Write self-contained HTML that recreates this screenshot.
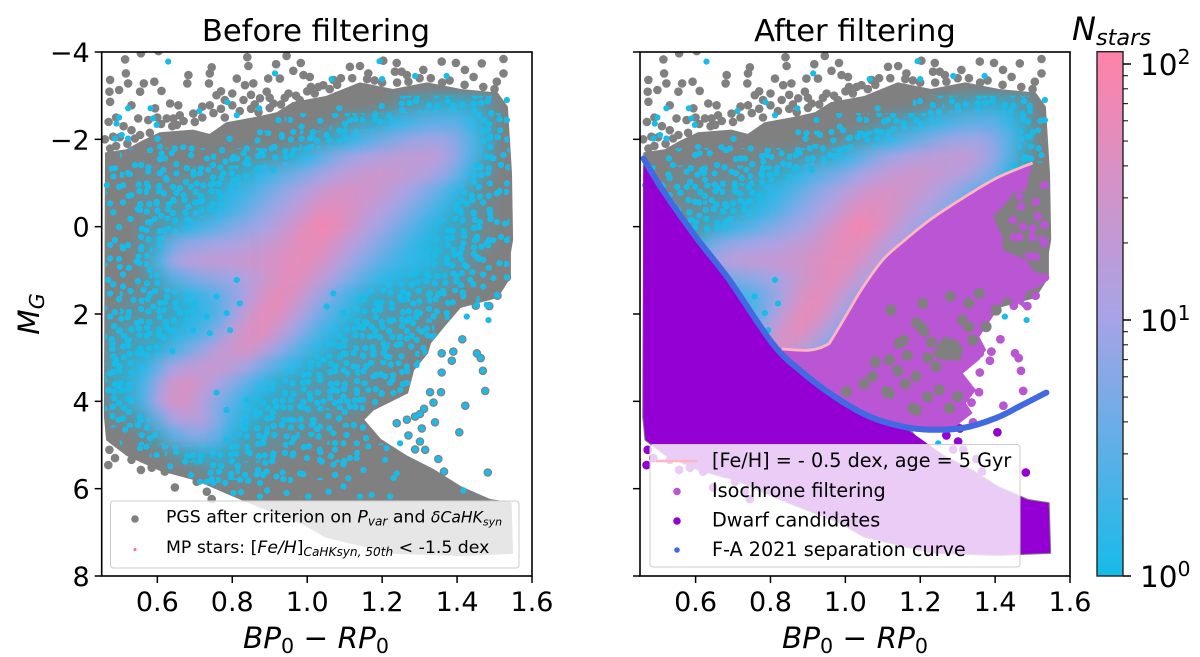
<!DOCTYPE html>
<html lang="en">
<head>
<meta charset="utf-8">
<title>Before and after filtering colour-magnitude diagrams</title>
<style>
html,body{margin:0;padding:0;background:#fff;width:1200px;height:657px;overflow:hidden}
svg{display:block}
text{font-family:"DejaVu Sans","Liberation Sans",sans-serif;fill:#000}
.t{font-size:30.6px}.tick{font-size:27px}.ax{font-size:29.5px;font-style:italic}
.lg1{font-size:17.3px}.lg2{font-size:19.2px}.i{font-style:italic}.sub{font-size:.7em}
</style>
</head>
<body>
<svg id="fig" width="1200" height="657" viewBox="0 0 1200 657" xmlns="http://www.w3.org/2000/svg">
<defs id="defs">
<clipPath id="clipL"><rect x="101.7" y="52" width="430.3" height="524"/></clipPath>
<clipPath id="clipR"><rect x="640" y="52" width="430" height="524"/></clipPath>
<filter id="soft" x="-10%" y="-10%" width="120%" height="120%" color-interpolation-filters="sRGB"><feGaussianBlur stdDeviation="6"/></filter>
<linearGradient id="cbGrad" x1="0" y1="1" x2="0" y2="0">
<stop offset="0" stop-color="#17bbe8"/><stop offset="0.5" stop-color="#a9a3e6"/><stop offset="1" stop-color="#ff82a8"/>
</linearGradient>
</defs>

<g id="panelL">
<g id="plotL" clip-path="url(#clipL)"></g>
<rect x="101.7" y="52" width="430.3" height="524" fill="none" stroke="#000" stroke-width="1.6"/>
<g id="ticksL"></g>
<text class="t" x="316" y="41" text-anchor="middle">Before filtering</text>
<text class="ax" x="316" y="648" text-anchor="middle">BP<tspan class="sub" dy="5" font-style="normal">0</tspan><tspan dy="-5" font-style="normal"> − </tspan>RP<tspan class="sub" dy="5" font-style="normal">0</tspan></text>
<text class="ax" transform="translate(39,314) rotate(-90)" text-anchor="middle">M<tspan class="sub" dy="5">G</tspan></text>
<g>
<rect x="110.5" y="501" width="408.5" height="67" rx="3" fill="#fff" fill-opacity="0.8" stroke="#ccc" stroke-width="1"/>
<circle cx="135" cy="519" r="3.8" fill="#808080"/>
<text class="lg1" x="166" y="522.5">PGS after criterion on <tspan class="i">P</tspan><tspan class="i sub" dy="3">var</tspan><tspan dy="-3"> and </tspan><tspan class="i" font-size="15.6">δCaHK</tspan><tspan class="i" font-size="11" dy="3">syn</tspan></text>
<circle cx="135" cy="549.5" r="1.5" fill="#ff5fa8"/>
<text class="lg1" x="166" y="553">MP stars: [<tspan class="i">Fe/H</tspan>]<tspan class="i sub" dy="3">CaHKsyn, 50th</tspan><tspan dy="-3"> &lt; -1.5 dex</tspan></text>
</g>
</g>

<g id="panelR">
<g id="plotR" clip-path="url(#clipR)"></g>
<rect x="640" y="52" width="430" height="524" fill="none" stroke="#000" stroke-width="1.6"/>
<g id="ticksR"></g>
<text class="t" x="855" y="41" text-anchor="middle">After filtering</text>
<text class="ax" x="855" y="648" text-anchor="middle">BP<tspan class="sub" dy="5" font-style="normal">0</tspan><tspan dy="-5" font-style="normal"> − </tspan>RP<tspan class="sub" dy="5" font-style="normal">0</tspan></text>
<g>
<rect x="650" y="444.5" width="370" height="122.5" rx="3" fill="#fff" fill-opacity="0.8" stroke="#ccc" stroke-width="1"/>
<line x1="656" x2="697" y1="461" y2="461" stroke="#ffb6c1" stroke-width="2.6"/>
<text class="lg2" x="712" y="467">[Fe/H] = - 0.5 dex, age = 5 Gyr</text>
<circle cx="677" cy="491.5" r="3.8" fill="#ba55d3"/>
<text class="lg2" x="712" y="497">Isochrone filtering</text>
<circle cx="677" cy="521" r="3.8" fill="#9400d3"/>
<text class="lg2" x="712" y="526.5">Dwarf candidates</text>
<circle cx="677" cy="550" r="2.8" fill="#4169e1"/>
<text class="lg2" x="712" y="556">F-A 2021 separation curve</text>
</g>
</g>

<g id="colorbar">
<rect x="1097" y="51.7" width="26" height="524.3" fill="url(#cbGrad)" stroke="#222" stroke-width="1.4"/>
<g id="cbTicks"></g>
<text x="1072" y="40" font-size="32" font-style="italic">N<tspan class="sub" dy="5">stars</tspan></text>
</g>
</svg>

<script>
// ---- axis tick data ----
const xTicks = [0.6, 0.8, 1.0, 1.2, 1.4, 1.6];
const xTickLabels = ['0.6', '0.8', '1.0', '1.2', '1.4', '1.6'];
const yTicks = [-4, -2, 0, 2, 4, 6, 8];
const yTickLabels = ['−4', '−2', '0', '2', '4', '6', '8'];
const cbMajorTicks = [1, 10, 100];
const cbMajorExponents = ['0', '1', '2'];
const cbMinorTicks = [2, 3, 4, 5, 6, 7, 8, 9, 20, 30, 40, 50, 60, 70, 80, 90];

// ---- density heatmap: mean Nstars per bin (values under 1 = sparse, individually visible stars) ----
const densityColors = [0.48,0.52,0.56,0.60,0.64,0.68,0.72,0.76,0.80,0.84,0.88,0.92,0.96,1.00,1.04,1.08,1.12,1.16,1.20,1.24,1.28,1.32,1.36,1.40,1.44,1.48,1.52];
const densityMags = [-2.8,-2.4,-2.0,-1.6,-1.2,-0.8,-0.4,0,0.4,0.8,1.2,1.6,2.0,2.4,2.8,3.2,3.6,4.0,4.4,4.8,5.2,5.6,6.0];
const densityValues = [
[0,0,0,0,0,0,0,0,0,0,0,0,0,0,0,0,0,0,.2,.4,.6,.8,1,1,.9,.5,.1],
[0,0,0,0,0,0,0,0,0,0,0,0,.05,.1,.15,.3,.5,.8,1,1.5,2,3,3,3,1.5,.8,.2],
[0,0,0,.05,.05,.05,.05,.05,.05,.05,.1,.15,.2,.4,.7,1,1.5,2.5,4,6,8,9,9,6,2.5,1,.2],
[0,.1,.1,.15,.2,.2,.2,.25,.3,.4,.5,.6,1,1.5,3,6,9,12,15,18,20,20,14,7,2.5,.7,.15],
[.1,.2,.3,.3,.3,.3,.35,.5,.7,1,1.5,2.5,4,6,10,15,22,26,28,24,18,14,8,4,1.2,.4,.1],
[.1,.2,.3,.35,.4,.5,.6,.9,1.3,2,3.5,6,9,15,26,35,36,30,22,14,9,5,3,1.3,.6,.3,.1],
[.1,.2,.35,.4,.5,.6,.8,1.2,2,3.5,6,9,15,28,48,50,36,24,14,9,5,3,1.6,.9,.5,.3,.1],
[.1,.2,.3,.5,.8,1.2,2,3,5,7,10,16,30,55,85,55,30,15,9,5,3,1.6,1,.8,.5,.3,.1],
[.1,.15,.4,1,4,7,9,10,12,15,20,28,45,60,52,30,15,9,5,3,1.6,1.2,1,.7,.4,.3,.1],
[.1,.2,.4,2,9,15,19,21,23,26,30,40,52,55,35,18,9,5,3,2,1.5,1.2,.9,.6,.4,.2,.1],
[.1,.2,.3,.8,2.5,4,6,7,9,14,24,40,55,38,18,9,4.5,2.5,1.5,1.2,1,.9,.7,.5,.3,.1,0],
[.2,.3,.4,.5,.8,1.2,1.8,3,6,14,34,58,42,18,8,3.5,1.8,1,.8,.7,.6,.5,.4,.2,.1,0,0],
[.3,.4,.5,.6,.8,1,1.5,2.5,8,24,52,52,24,9,4,2,1.2,.7,.6,.5,.5,.4,.3,.1,0,0,0],
[.5,.6,.7,.8,1,1.5,2.5,6,18,40,52,26,10,4.5,2,1.2,.8,.6,.5,.5,.4,.3,.1,0,0,0,0],
[.6,.7,.8,1,2,4,8,17,30,40,20,9,4,2,1.2,.8,.6,.5,.5,.4,.3,.2,.1,0,0,0,0],
[.7,.9,1.2,3.5,10,16,22,25,18,10,5,2.5,1.4,1,.7,.6,.5,.5,.4,.3,.2,.1,0,0,0,0,0],
[.7,1,2,8,30,38,24,12,6,3,1.5,1,.8,.6,.6,.5,.5,.4,.3,.2,.1,0,0,0,0,0,0],
[.6,.9,2.2,12,34,34,15,6,3,1.4,1,.8,.7,.6,.5,.5,.4,.3,.15,.05,0,0,0,0,0,0,0],
[.3,.4,.8,3.5,12,18,14,6,2,1.1,.8,.6,.5,.5,.4,.3,.3,.15,.1,.1,0,0,0,0,0,0,0],
[0,.05,.3,.8,2.5,5,6,3.5,1.2,.7,.5,.4,.4,.3,.3,.2,.2,.15,.1,.05,0,0,0,0,0,0,0],
[0,0,0,.1,.4,.8,1,1,.7,.5,.4,.3,.25,.2,.15,.15,.1,.05,0,0,0,0,0,0,0,0,0],
[0,0,0,0,0,.1,.3,.5,.5,.4,.3,.2,.15,.1,.1,.05,0,0,0,0,0,0,0,0,0,0,0],
[0,0,0,0,0,0,0,.1,.2,.2,.15,.1,.05,0,0,0,0,0,0,0,0,0,0,0,0,0,0]
];

// ---- outline of the dense PGS cloud, [colour, magnitude] ----
const pgsCloudOutline = [[.463,-1.68],[.518,-1.75],[.56,-1.95],[.607,-2.14],[.695,-2.2],[.74,-2.1],[.785,-2.37],[.874,-2.51],[.92,-2.6],[.962,-2.83],[1.05,-2.97],[1.14,-3.28],[1.229,-3.13],[1.32,-3.28],[1.41,-3.13],[1.507,-3.05],[1.533,-2.74],[1.544,-1.23],[1.547,.3],[1.541,.6],[1.541,1.15],[1.507,1.61],[1.408,1.84],[1.363,2.29],[1.328,2.66],[1.32,2.89],[1.283,3.28],[1.267,3.8],[1.176,4.19],[1.149,4.42],[1.195,4.88],[1.267,5.27],[1.336,5.57],[1.408,5.96],[1.488,6.26],[1.543,6.33],[1.547,7.47],[1.41,7.52],[1.23,7.47],[1.05,7.1],[.99,6.8],[.847,6.32],[.786,6.1],[.706,5.8],[.607,5.57],[.519,5.23],[.466,4.88],[.46,4.35]];

// ---- isolated PGS stars ----
const sparseTopStars = [[.514,-3.83],[.556,-3.97],[.603,-4.02],[.474,-3.36],[.472,-3.09],[.516,-3.51],[.522,-3.28],[.498,-3.13],[.474,-2.86],[.564,-3.28],[.592,-3.32],[.554,-3.09],[.611,-3.11],[.683,-3.47],[.68,-3.28],[.745,-3.65],[.74,-3.51],[.738,-3.28],[.812,-3.39],[.84,-3.88],[.843,-3.68],[.834,-3.24],[.856,-3.28],[.917,-3.72],[.945,-3.91],[.983,-3.75],[.896,-3.39],[.963,-3.57],[.99,-3.47],[1.007,-3.43],[.927,-3.39],[.892,-3.09],[.758,-3.01],[.83,-2.9],[.656,-2.78],[.634,-2.82],[.531,-2.78],[.549,-2.48],[1.114,-3.66],[1.141,-3.68],[1.163,-3.51],[1.203,-3.8],[1.239,-3.75],[1.31,-3.59],[1.359,-3.78],[1.397,-3.75],[1.466,-3.74],[1.524,-3.84],[1.524,-3.51],[1.506,-3.32],[1.444,-3.43],[1.421,-3.59],[1.252,-3.55],[1.234,-3.55],[1.266,-3.47],[1.07,-3.36],[1.043,-3.24],[.98,-2.9],[.874,-2.94],[.91,-2.82],[.643,-2.48],[.696,-2.59],[.594,-2.71],[.625,-2.48],[.576,-2.44],[.652,-2.33],[.482,-2.06],[.554,-2.1],[.474,-1.79],[.531,-2.21],[.78,-2.9],[.86,-2.8],[.72,-2.75],[.75,-2.6],[.7,-2.4],[1.0,-3.1],[1.03,-3.2],[1.09,-3.4],[1.18,-3.35],[1.3,-3.4],[1.38,-3.35],[1.47,-3.2],[.95,-3.05],[.49,-2.5],[.51,-2.3],
[.61,-2.35],[.64,-2.3],[.67,-2.42],[.72,-2.5],[.74,-2.78],[.77,-2.7],[.8,-2.78],[.82,-2.65],[.85,-2.7],[.87,-2.62],[.9,-2.72],[.93,-2.8],[.94,-2.95],[.97,-3],[1.01,-3.2],[1.02,-3.05],[1.06,-3.15],[1.08,-3.25],[1.12,-3.4],[1.16,-3.38],[1.2,-3.3],[1.24,-3.3],[1.27,-3.32],[1.33,-3.4],[1.36,-3.3],[1.42,-3.25],[1.5,-3.15],[.49,-1.85],[.5,-2.05],[.52,-1.9],[.54,-2.02],[.58,-2.15],[.6,-2.5],[.66,-2.55],[.78,-2.5],[.77,-3.1],[.8,-3.05],[.85,-3.02],[.9,-2.95],[.47,-2.4],[.46,-2.0]];
const fringeStars = [[.472,5.11],[.487,5.3],[.469,5.46],[.531,5.34],[.556,5.57],[.585,5.52],[.62,5.61],[.678,5.65],[.647,5.97],[.705,5.84],[.732,6.07],[.745,6.24]];
const outerStars = [[1.359,2.9],[1.386,3.07],[1.453,2.9],[1.463,3.01],[1.469,3.3],[1.475,3.76],[1.422,4.1],[1.406,4.71],[1.482,5.63],[1.357,3.79],[1.359,3.34],[1.35,5.32],[1.365,5.61],[1.306,4.62],[1.27,4.78],[1.301,4.92],[1.315,5.11],[1.288,5.1],[1.341,4.48],[1.328,3.79],[1.337,4.03],[1.312,4.17],[1.301,4.29],[1.288,4.35],[1.266,4.42],[1.239,4.5],[1.508,1.58],[1.45,1.81],[1.486,1.82],[1.533,1.16],[1.414,2.58],[1.39,2.86]];

// ---- individual MP stars visible above the PGS cloud ----
const mpStars = [[.629,-3.78],[.914,-3.51],[1.193,-3.79],[1.288,-3.45],[1.065,-3.38],[1.2,-3.38],[1.372,-3.45],[1.086,-2.71],[.872,-2.71],[.787,-2.85],[.712,-2.65],[.812,-2.55],[.522,-2.71],[.582,-2.71],[.498,-2.5],[.589,-2.48],[.923,-2.44],[.598,-2.33],[.491,-2.36],[.487,-2.02],[.522,-2.02],[.505,-2.1],[.874,-2.16],[.896,-2.14],[.932,-2.1],[.963,-2.17],[.985,-2.29],[1.008,-2.02],[1.052,-2.1],[1.097,-2.17],[1.114,-2.44],[.607,-1.83],[.692,-1.79],[.669,-1.82],[.905,-1.79],[.959,-1.64],[.999,-1.79],[.803,-1.6],[.83,-1.68],[.878,-1.69],[.611,-1.68],[.638,-1.68],[.732,-1.56],[.781,-1.49],[.834,-1.45],[.865,-1.33],[.91,-1.3],[.478,-1.33],[.54,-1.41],[.576,-1.26],[.483,-1.15],[.527,-1.2],[.616,-1.3],[.651,-1.22],[.696,-1.26],[.736,-1.3],[.776,-1.22],[.803,-1.07],[.465,-.95],[.509,-.95],[.576,-.91],[.625,-1.07],[.66,-.88],[.705,-.99],[.749,-.99],[.474,-.53],[.531,-.72],[.554,-.38],[.598,-.57],[.643,-.61],[.683,-.46],[.72,-.6],[.77,-.7],[.575,-.1],[.61,-.25],[.63,.05],
[1.533,-2.9],[1.533,-2.44],[1.515,-2.21],[1.488,-2.06],[1.524,-1.64],[1.479,-1.6],[1.453,-1.41],[1.497,-1.56],[1.533,-.99],[1.506,-.76],[1.488,-.99],[1.461,-.69],[1.426,-.53],[1.408,-.38],[1.444,-.3],[1.488,-.3],[1.528,-.07],[1.506,-.11],[1.453,.23],[1.417,.38],[1.408,.61],[1.479,.38],[1.497,.31],[1.533,.31],[1.453,.69],[1.47,.76],[1.426,.92],[1.39,1.07],[1.435,1.22],[1.47,1.37],[1.497,1.18],[1.533,1.16],[1.417,1.6],[1.479,1.79],[1.453,1.79],[1.506,1.56],[1.426,2.06],[1.484,2.14],[1.364,1.53],[1.319,1.07],[1.328,1.53],[1.283,1.76],[1.372,1.98],[1.337,2.06],[1.283,2.21],[1.23,2.14],[1.248,1.6],[1.194,1.83],[1.141,1.68],[1.159,2.21],[1.097,1.98],[1.052,1.83],[1.07,1.53],
[1.141,2.29],[1.172,2.29],[1.204,2.67],[1.168,2.52],[1.221,2.17],[1.266,2.17],[1.301,1.98],[1.248,2.52],[1.266,2.56],[1.239,2.71],[1.306,2.4],[1.333,2.52],[1.31,2.78],[1.292,3.17],[1.266,3.2],[1.244,3.13],[1.212,2.97],[1.177,2.86],[1.15,2.97],[1.123,3.2],[1.097,3.28],[1.07,2.67],[1.097,2.9],[1.043,3.05],[1.008,3.2],[1.034,3.51],[1.07,3.74],[1.097,3.89],[1.132,3.74],[1.163,3.74],[1.199,3.81],[1.23,3.81],[1.248,3.74],[1.208,3.43],[1.177,3.43],[1.23,3.4],[1.266,3.58],[1.221,3.58],[1.141,3.97],[1.114,4.12],[1.088,4.0],[1.043,4.0],[1.017,4.42],[1.034,4.58],[1.07,4.73],[1.097,4.96],[1.132,4.96],[1.163,5.03],[1.114,5.3],[1.132,5.3],[1.034,5.11],[1.074,5.11],[.999,5.3],[1.039,5.38],[1.07,5.45],[1.097,5.45],[1.15,5.57],[1.11,5.76],[1.097,5.95],[1.239,5.65],[1.23,5.76],[1.208,5.34],[1.212,5.07],[1.248,4.96],[1.172,6.14],[1.221,6.18],[1.141,6.18],[1.057,6.07],[1.003,6.18],[1.417,6.04],
[.474,3.36],[.469,3.74],[.496,3.66],[.482,4.12],[.522,3.93],[.496,4.42],[.514,4.65],[.554,4.35],[.558,4.77],[.554,5.07],[.571,5.04],[.598,5.23],[.634,5.49],[.674,5.38],[.714,5.84],[.732,5.84],[.749,5.87],[.781,5.87],[.803,6.1],[.874,6.18],[.821,5.8],[.865,5.68],[.892,5.61],[.918,5.72],[.945,6.1],[1.003,6.18],[.874,5.87],[.981,5.65],[1.034,5.34],[.963,5.19],[.91,5.19],[.847,5.19],[.785,4.88],[.838,4.5],[.892,4.73],[.945,4.8],[.918,4.12],[.874,4.27],[.981,4.12],[1.016,4.5],[.954,4.42],[.838,3.97],[.785,4.2],[.758,3.8],
[.474,1.53],[.509,1.37],[.536,1.68],[.563,1.45],[.589,1.83],[.625,1.6],[.66,1.98],[.696,1.76],[.732,2.06],[.758,1.6],[.785,1.98],[.812,1.22],[.474,2.06],[.5,2.37],[.545,2.21],[.58,2.44],[.634,2.37],[.696,2.37],[.74,2.44],[.794,2.37],[.82,1.76],[.469,1.22],[.5,.92],[.545,.8],[.58,.99],[.558,.46],[.571,.08],[.509,.5],[.474,.42],[.474,.73],[.48,2.8],[.52,2.6],[.56,2.9],[.49,3.05],[.6,2.75],[.64,2.85]];

// ---- curves, [colour, magnitude] ----
const separationCurve = [[.461,-1.56],[.512,-.84],[.6,.23],[.69,1.22],[.806,2.68],[.887,3.35],[.976,3.92],[1.065,4.35],[1.154,4.58],[1.225,4.65],[1.314,4.61],[1.403,4.38],[1.473,4.08],[1.537,3.8]];
const isochrone = [[.83,2.8],[.904,2.83],[.95,2.71],[.966,2.55],[1.011,1.9],[1.046,1.4],[1.1,.76],[1.153,.35],[1.225,-.15],[1.313,-.65],[1.403,-1.11],[1.5,-1.46]];

// ---- isochrone-filtered area, dense part outer edge ----
const filteredEdge = [[1.49,-1.14],[1.483,-.84],[1.447,-.76],[1.429,-.53],[1.394,-.23],[1.42,.23],[1.42,.53],[1.483,.76],[1.5,.99],[1.536,1.14],[1.527,1.34],[1.483,1.49],[1.474,1.83],[1.429,1.6],[1.394,2.06],[1.358,2.52],[1.376,2.82],[1.358,3.05],[1.314,3.36],[1.349,3.74],[1.322,4.04],[1.34,4.27],[1.305,4.5]];
const unfilteredEdge = [[1.541,-1.46],[1.544,-1.23],[1.547,.3],[1.541,.6],[1.541,1.15],[1.507,1.61],[1.408,1.84],[1.363,2.29],[1.328,2.66],[1.32,2.89],[1.283,3.28],[1.267,3.8],[1.176,4.19],[1.149,4.42]];
const dwarfEdge = [[1.2,4.85],[1.267,5.27],[1.336,5.57],[1.408,5.96],[1.488,6.26],[1.543,6.33],[1.547,7.47],[1.41,7.52],[1.23,7.47],[1.05,7.1],[.99,6.8],[.847,6.32],[.786,6.1],[.706,5.8],[.607,5.57],[.519,5.23],[.466,4.88],[.46,4.35],[.46,-1.2]];
const filteredScatter = [[1.532,-.95],[1.509,-.57],[1.469,-.46],[1.514,-.23],[1.5,.04],[1.532,-.04],[1.474,0],[1.451,.24],[1.465,.24],[1.5,.24],[1.527,.31],[1.532,.38],[1.491,.67],[1.509,.69],[1.447,-.15],[1.465,-.69]];
const unfilteredPatches = [[1.278,2.82],[1.26,2.75],[1.29,2.7],[1.27,2.95],[1.295,2.95],[1.25,2.9],[1.3,2.82],[1.202,2.29],[1.19,2.2],[1.21,2.4],[1.144,2.67],[1.155,2.6],[1.122,1.91],[1.358,1.53],[1.207,1.76],[1.313,2.14],[1.189,3.43],[1.242,3.2],[1.118,3.05],[1.118,3.82],[1.3,3.89],[1.278,4.16],[1.18,4.16],[1.251,3.74],[1.403,1.91],[1.376,2.29],[1.072,3.43],[1.003,3.78],[1.11,3.78],[1.19,4.2],[1.27,2.65],[1.23,2.65],[1.165,2.95],[1.33,1.75],[1.28,1.6],[1.33,2.3],[1.34,2.6],[1.22,3.0],[1.14,3.3],[1.08,3.1],[1.16,3.6],[1.05,3.6],[1.22,3.9]];

const NS = 'http://www.w3.org/2000/svg';
const yScale = m => 52 + (m + 4) * 524 / 12;
const xScaleL = c => 101.7 + (c - 0.4515) * 430.3 / 1.1485;
const xScaleR = c => 640 + (c - 0.4515) * 430 / 1.1485;
const cbScale = n => 576 - Math.log10(n) * 256;
const tileSize = 72;
const tileCounts = [10, 18, 28, 40, 54, 64];
const tileLevels = [.08, .15, .25, .35, .5];
const tileJitter = [2, -3, 1, -1, 3, -2, 0, 2, -3, 1, 3, -1, -2, 2, 0, -3];

function shape(parent, tag, attrs) {
  const el = document.createElementNS(NS, tag);
  for (const k in attrs) el.setAttribute(k, attrs[k]);
  parent.appendChild(el);
  return el;
}
function pathOf(points, xs, close) {
  return points.map((p, i) => (i ? 'L' : 'M') + xs(p[0]).toFixed(1) + ' ' + yScale(p[1]).toFixed(1)).join('') + (close ? 'Z' : '');
}
function smoothPathOf(points, xs) {
  const pts = points.map(p => [xs(p[0]), yScale(p[1])]);
  let d = 'M' + pts[0][0].toFixed(1) + ' ' + pts[0][1].toFixed(1);
  for (let i = 0; i < pts.length - 1; i++) {
    const a = pts[Math.max(i - 1, 0)], b = pts[i], c = pts[i + 1], e = pts[Math.min(i + 2, pts.length - 1)];
    d += 'C' + (b[0] + (c[0] - a[0]) / 6).toFixed(1) + ' ' + (b[1] + (c[1] - a[1]) / 6).toFixed(1) + ' ' + (c[0] - (e[0] - b[0]) / 6).toFixed(1) + ' ' + (c[1] - (e[1] - b[1]) / 6).toFixed(1) + ' ' + c[0].toFixed(1) + ' ' + c[1].toFixed(1);
  }
  return d;
}
function mapColor(n) {
  const t = Math.min(1, Math.log10(Math.max(n, 1)) / 2.05);
  const a = t < .5 ? [23, 187, 232] : [169, 163, 230];
  const b = t < .5 ? [169, 163, 230] : [255, 130, 168];
  const u = t < .5 ? t * 2 : (t - .5) * 2;
  return 'rgb(' + a.map((v, i) => Math.round(v + (b[i] - v) * u)).join(',') + ')';
}
function curveMagAt(c) {
  for (let i = 1; i < separationCurve.length; i++) {
    const p = separationCurve[i - 1], q = separationCurve[i];
    if (c <= q[0]) return p[1] + (q[1] - p[1]) * (c - p[0]) / (q[0] - p[0]);
  }
  return separationCurve[separationCurve.length - 1][1];
}
function tileLevel(n) {
  for (let k = 0; k < tileLevels.length; k++) if (n < tileLevels[k]) return k;
  return tileLevels.length;
}

// stipple tiles showing sparse MP stars at low density
const defs = document.getElementById('defs');
tileCounts.forEach((count, level) => {
  const pat = shape(defs, 'pattern', {id: 'tile' + level, width: tileSize, height: tileSize, patternUnits: 'userSpaceOnUse'});
  
  
  for (let i = 0; i < count; i++) {
    const slot = (i * 37) % 64;
    const gx = slot % 8, gy = Math.floor(slot / 8);
    const dot = shape(pat, 'circle', {cx: 4.5 + gx * 9 + tileJitter[(gx + gy * 3) % 16] * .8, cy: 4.5 + gy * 9 + tileJitter[(gy + gx * 5 + 7) % 16] * .8, r: 3.2, fill: '#19bbe8'});
    
    
  }
});

function drawBase(group, xs, panelId) {
  const clip = shape(defs, 'clipPath', {id: 'cloud' + panelId});
  shape(clip, 'path', {d: pathOf(pgsCloudOutline, xs, true)});
  const cloud = shape(group, 'path', {d: pathOf(pgsCloudOutline, xs, true), fill: '#808080', stroke: '#808080', 'stroke-width': 2, 'stroke-linejoin': 'round'});
  
  
  sparseTopStars.concat(fringeStars, outerStars).forEach(s => {
    const dot = shape(group, 'circle', {cx: xs(s[0]).toFixed(1), cy: yScale(s[1]).toFixed(1), r: 4.3, fill: '#808080'});
    
    
  });
  const cw = Math.abs(xs(densityColors[1]) - xs(densityColors[0]));
  const ch = yScale(densityMags[1]) - yScale(densityMags[0]);
  const clipped = shape(group, 'g', {'clip-path': 'url(#cloud' + panelId + ')'});
  
  
  const stipple = shape(clipped, 'g', {});
  
  
  const heat = shape(clipped, 'g', {filter: 'url(#soft)'});
  
  
  densityValues.forEach((row, j) => row.forEach((n, i) => {
    if (n <= 0) return;
    const x = (xs(densityColors[i]) - cw / 2).toFixed(1);
    const y = (yScale(densityMags[j]) - ch / 2).toFixed(1);
    if (n < 1.6) {
      const sp = shape(stipple, 'rect', {x: x, y: y, width: cw.toFixed(1), height: ch.toFixed(1), fill: 'url(#tile' + tileLevel(n) + ')'});
      
      
    }
    if (n >= .25) {
      const cell = shape(heat, 'rect', {x: x, y: y, width: cw.toFixed(1), height: ch.toFixed(1), fill: mapColor(n), 'fill-opacity': Math.min(1, (n - .15) * .9)});
      
      
    }
  }));
  mpStars.concat(outerStars).forEach(s => {
    const dot = shape(group, 'circle', {cx: xs(s[0]).toFixed(1), cy: yScale(s[1]).toFixed(1), r: 3.1, fill: '#19bbe8'});
    
    
  });
}

function drawFiltered(group, xs) {
  const lowerCurve = separationCurve.filter(p => p[0] >= .8 && p[0] <= 1.32).reverse();
  const cover = shape(group, 'path', {d: pathOf(isochrone.concat(unfilteredEdge, separationCurve.filter(p => p[0] >= .8 && p[0] < 1.16).reverse()), xs, true), fill: '#808080'});
  
  
  const region = shape(group, 'path', {d: pathOf(isochrone.concat(filteredEdge, lowerCurve), xs, true), fill: '#ba55d3'});
  
  
  unfilteredPatches.forEach(s => {
    const dot = shape(group, 'circle', {cx: xs(s[0]).toFixed(1), cy: yScale(s[1]).toFixed(1), r: 5.5, fill: '#808080'});
    
    
  });
  filteredScatter.concat(outerStars).forEach(s => {
    const dot = shape(group, 'circle', {cx: xs(s[0]).toFixed(1), cy: yScale(s[1]).toFixed(1), r: 4.3, fill: s[1] > curveMagAt(s[0]) ? '#9400d3' : '#ba55d3'});
    
    
  });
  const dwarf = shape(group, 'path', {d: pathOf(separationCurve.filter(p => p[0] <= 1.16).concat(dwarfEdge), xs, true), fill: '#9400d3'});
  
  
  fringeStars.forEach(s => {
    const dot = shape(group, 'circle', {cx: xs(s[0]).toFixed(1), cy: yScale(s[1]).toFixed(1), r: 4.3, fill: '#9400d3'});
    
    
  });
  const sep = shape(group, 'path', {d: smoothPathOf(separationCurve, xs), fill: 'none', stroke: '#4169e1', 'stroke-width': 6, 'stroke-linecap': 'round'});
  
  
  const iso = shape(group, 'path', {d: smoothPathOf(isochrone, xs), fill: 'none', stroke: '#ffb6c1', 'stroke-width': 2.8});
  
  
}

function drawTicks(group, xs, x0, showY) {
  xTicks.forEach((v, i) => {
    const tick = shape(group, 'line', {x1: xs(v), x2: xs(v), y1: 576, y2: 583, stroke: '#000', 'stroke-width': 1.5});
    
    
    const label = shape(group, 'text', {x: xs(v), y: 611, 'text-anchor': 'middle', class: 'tick'});
    label.textContent = xTickLabels[i];
    
    
  });
  yTicks.forEach((v, i) => {
    const tick = shape(group, 'line', {x1: x0 - 7, x2: x0, y1: yScale(v), y2: yScale(v), stroke: '#000', 'stroke-width': 1.5});
    
    
    if (showY) {
      const label = shape(group, 'text', {x: x0 - 12, y: yScale(v) + 10, 'text-anchor': 'end', class: 'tick'});
      label.textContent = yTickLabels[i];
      
      
    }
  });
}

const plotL = document.getElementById('plotL');
const plotR = document.getElementById('plotR');
drawBase(plotL, xScaleL, 'L');
drawBase(plotR, xScaleR, 'R');
drawFiltered(plotR, xScaleR);
drawTicks(document.getElementById('ticksL'), xScaleL, 101.7, true);
drawTicks(document.getElementById('ticksR'), xScaleR, 640, false);

const cbGroup = document.getElementById('cbTicks');
cbMajorTicks.forEach((n, i) => {
  const tick = shape(cbGroup, 'line', {x1: 1123, x2: 1131, y1: cbScale(n), y2: cbScale(n), stroke: '#000', 'stroke-width': 1.5});
  
  
  const label = shape(cbGroup, 'text', {x: 1140, y: cbScale(n) + 11, 'font-size': 29.5});
  label.textContent = '10';
  const sup = shape(label, 'tspan', {dy: -11, 'font-size': 20.5});
  sup.textContent = cbMajorExponents[i];
  
  
});
cbMinorTicks.forEach(n => {
  const tick = shape(cbGroup, 'line', {x1: 1123, x2: 1128, y1: cbScale(n), y2: cbScale(n), stroke: '#000', 'stroke-width': 1});
  
  
});
</script>
</body>
</html>
